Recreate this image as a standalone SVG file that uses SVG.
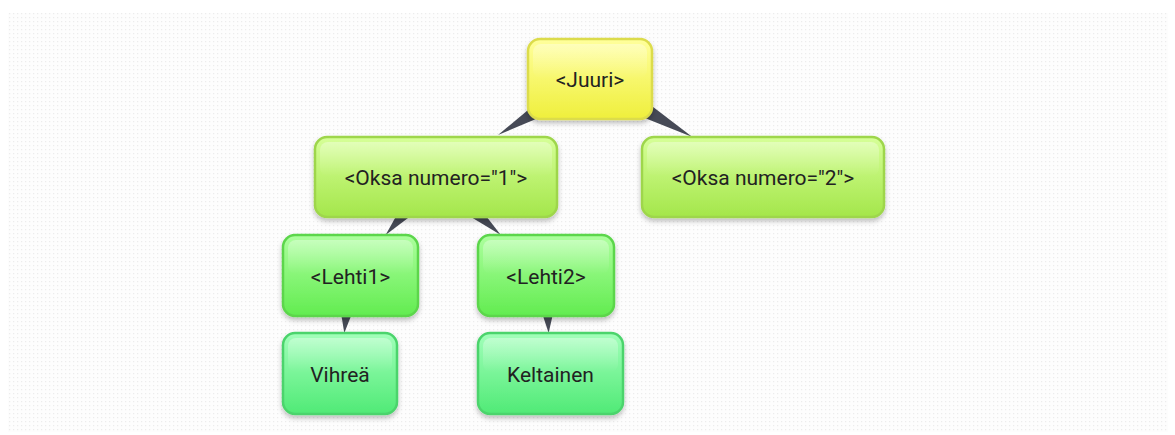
<svg xmlns="http://www.w3.org/2000/svg" width="1175" height="435" viewBox="0 0 1175 435">
  <defs>
    <pattern id="dots" x="0" y="0" width="4" height="4" patternUnits="userSpaceOnUse">
      <rect width="4" height="4" fill="#fdfdfd"/>
      <rect x="1" y="1" width="1.2" height="1.2" fill="#ececec"/>
    </pattern>
    <filter id="shadow" x="-20%" y="-20%" width="140%" height="150%">
      <feDropShadow dx="0" dy="3" stdDeviation="2.5" flood-color="#000" flood-opacity="0.25"/>
    </filter>
    <linearGradient id="gYellow" x1="0" y1="0" x2="0" y2="1">
      <stop offset="0" stop-color="#ffff9c"/>
      <stop offset="1" stop-color="#efef3c"/>
    </linearGradient>
    <linearGradient id="gLime" x1="0" y1="0" x2="0" y2="1">
      <stop offset="0" stop-color="#d6ff98"/>
      <stop offset="1" stop-color="#a4e64a"/>
    </linearGradient>
    <linearGradient id="gGreen" x1="0" y1="0" x2="0" y2="1">
      <stop offset="0" stop-color="#adff9e"/>
      <stop offset="1" stop-color="#62ec50"/>
    </linearGradient>
    <linearGradient id="gMint" x1="0" y1="0" x2="0" y2="1">
      <stop offset="0" stop-color="#a2ffba"/>
      <stop offset="1" stop-color="#50ea76"/>
    </linearGradient>
    <linearGradient id="gShine" x1="0" y1="0" x2="0" y2="1">
      <stop offset="0" stop-color="#ffffff" stop-opacity="0.35"/>
      <stop offset="1" stop-color="#ffffff" stop-opacity="0"/>
    </linearGradient>
  </defs>
  <style>
    .node rect.body { stroke-width: 2.5; filter: url(#shadow); }
    .node rect.shine { fill: url(#gShine); }
    .node text { font-family: Roboto, "Noto Sans", "Liberation Sans", sans-serif; font-size: 21px; fill: #222222; text-anchor: middle; }
    .yellow rect.body { fill: url(#gYellow); stroke: #dcdc4c; }
    .lime rect.body { fill: url(#gLime); stroke: #9ed64c; }
    .green rect.body { fill: url(#gGreen); stroke: #5cd64c; }
    .mint rect.body { fill: url(#gMint); stroke: #4cd46c; }
    .edge { fill: #464a56; }
  </style>

  <rect x="0" y="0" width="1175" height="435" fill="#ffffff"/>
  <rect x="8" y="13" width="1160" height="419" fill="url(#dots)"/>

  <g id="connectors">
    <polygon class="edge" points="581.5,65.3 598.5,92.7 498,135"/>
    <polygon class="edge" points="581.5,92.7 598.5,65.3 692.4,137"/>
    <polygon class="edge" points="423.8,166.5 448.2,187.5 385.6,235"/>
    <polygon class="edge" points="426.3,189.9 445.7,164.1 500.8,235"/>
    <polygon class="edge" points="334.6,273.8 366.4,277.2 344.3,333"/>
    <polygon class="edge" points="530,276.2 562,274.8 548.6,333"/>
  </g>

  <g id="node-juuri" class="node yellow">
    <rect class="body" x="528" y="39" width="124" height="80" rx="12"/>
    <rect class="shine" x="533" y="44" width="114" height="34" rx="8"/>
    <text x="590" y="87">&lt;Juuri&gt;</text>
  </g>
  <g id="node-oksa1" class="node lime">
    <rect class="body" x="315" y="137" width="242" height="80" rx="12"/>
    <rect class="shine" x="320" y="142" width="232" height="34" rx="8"/>
    <text x="436" y="185">&lt;Oksa numero="1"&gt;</text>
  </g>
  <g id="node-oksa2" class="node lime">
    <rect class="body" x="642" y="137" width="242" height="80" rx="12"/>
    <rect class="shine" x="647" y="142" width="232" height="34" rx="8"/>
    <text x="763" y="185">&lt;Oksa numero="2"&gt;</text>
  </g>
  <g id="node-lehti1" class="node green">
    <rect class="body" x="283" y="235" width="135" height="81" rx="12"/>
    <rect class="shine" x="288" y="240" width="125" height="34" rx="8"/>
    <text x="350.5" y="283.5">&lt;Lehti1&gt;</text>
  </g>
  <g id="node-lehti2" class="node green">
    <rect class="body" x="478" y="235" width="136" height="81" rx="12"/>
    <rect class="shine" x="483" y="240" width="126" height="34" rx="8"/>
    <text x="546" y="283.5">&lt;Lehti2&gt;</text>
  </g>
  <g id="node-vihrea" class="node mint">
    <rect class="body" x="283" y="333" width="114" height="81" rx="12"/>
    <rect class="shine" x="288" y="338" width="104" height="34" rx="8"/>
    <text x="340" y="382">Vihreä</text>
  </g>
  <g id="node-keltainen" class="node mint">
    <rect class="body" x="478" y="333" width="145" height="81" rx="12"/>
    <rect class="shine" x="483" y="338" width="135" height="34" rx="8"/>
    <text x="550.5" y="382">Keltainen</text>
  </g>
</svg>
